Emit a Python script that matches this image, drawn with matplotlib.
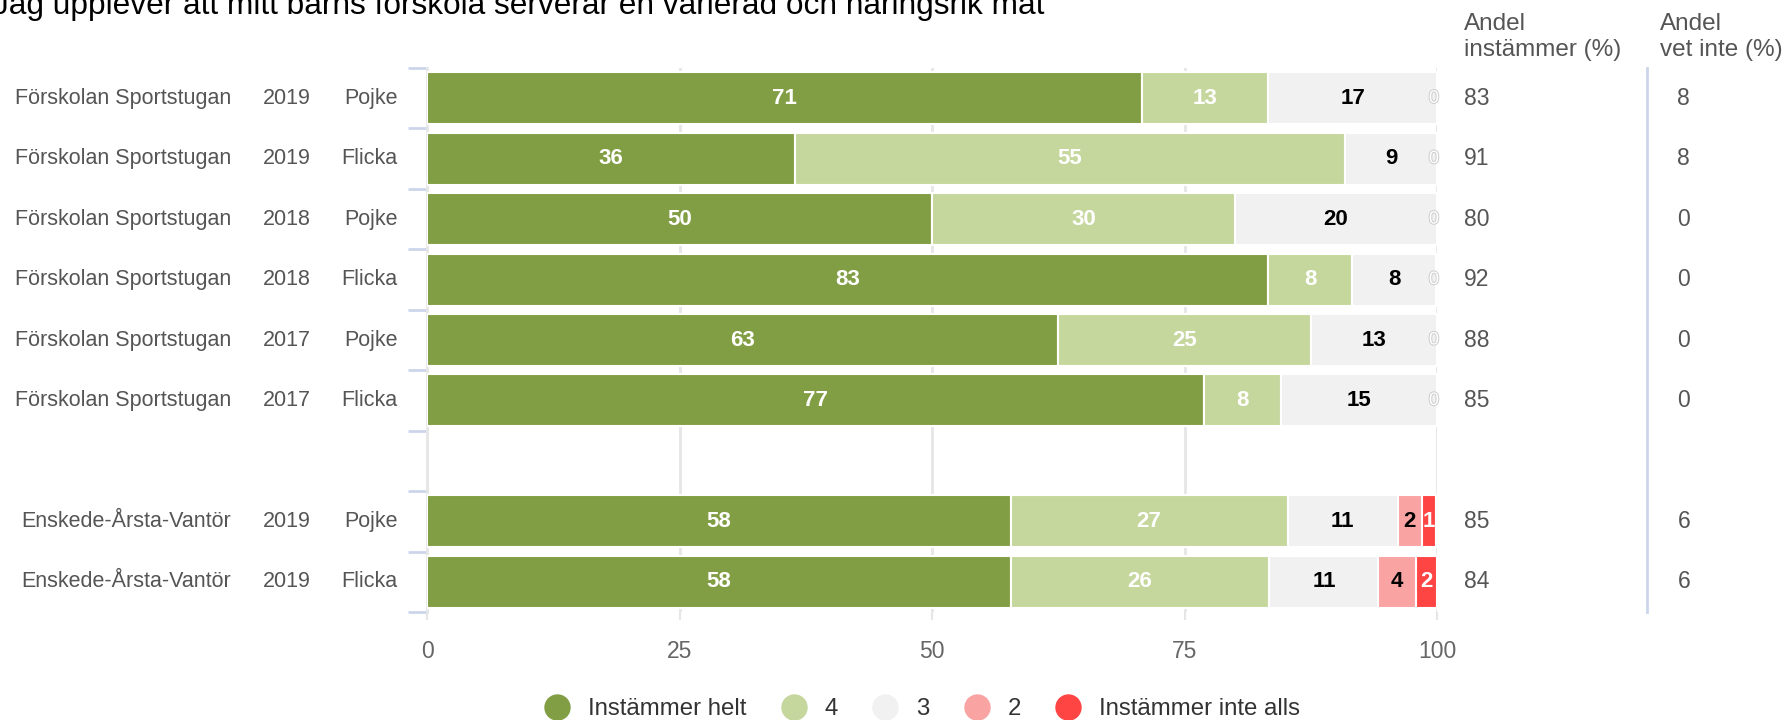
import matplotlib
matplotlib.use("Agg")
import matplotlib.pyplot as plt
import matplotlib.patheffects as pe
from matplotlib.lines import Line2D
import numpy as np

plt.rcParams['font.family'] = ['Liberation Sans', 'DejaVu Sans']

title = "Jag upplever att mitt barns förskola serverar en varierad och näringsrik mat"
units = ["Förskolan Sportstugan"] * 6 + [""] + ["Enskede-Årsta-Vantör"] * 2
years = ["2019", "2019", "2018", "2018", "2017", "2017", "", "2019", "2019"]
genders = ["Pojke", "Flicka", "Pojke", "Flicka", "Pojke", "Flicka", "", "Pojke", "Flicka"]
series_names = ["Instämmer helt", "4", "3", "2", "Instämmer inte alls"]
helt = [70.8, 36.4, 50.0, 83.3, 62.5, 76.9, None, 57.8, 57.8]
s4 = [12.5, 54.5, 30.0, 8.3, 25.0, 7.7, None, 27.4, 25.6]
s3 = [16.7, 9.1, 20.0, 8.3, 12.5, 15.4, None, 10.9, 10.8]
s2 = [0.0, 0.0, 0.0, 0.0, 0.0, 0.0, None, 2.4, 3.7]
inte = [0.0, 0.0, 0.0, 0.0, 0.0, 0.0, None, 1.4, 2.1]
andel_inst = ["83", "91", "80", "92", "88", "85", "", "85", "84"]
andel_vet = ["8", "8", "0", "0", "0", "0", "", "6", "6"]

colors = ["#829e44", "#c5d79d", "#f1f1f1", "#f9a3a3", "#ff4444"]
label_colors = ["white", "white", "black", "black", "white"]
txt = "#555555"

fig = plt.figure(figsize=(17.87, 7.2), dpi=100)
ax = fig.add_axes([427 / 1787, 1 - 612 / 720, 1010 / 1787, 544 / 720])

series = [helt, s4, s3, s2, inte]
y = np.arange(len(units))
for i in range(len(units)):
    if helt[i] is None:
        continue
    left = 0.0
    for k, s in enumerate(series):
        v = s[i]
        if v > 0:
            ax.barh(y[i], v, left=left, height=0.86, color=colors[k],
                    edgecolor="white", linewidth=1.5, zorder=3)
            ax.text(left + v / 2, y[i], str(int(v + 0.5)), ha="center", va="center",
                    color=label_colors[k], fontsize=16, fontweight="bold", zorder=4)
        left += v
    if s2[i] == 0:
        ax.text(99.7, y[i], "0", ha="center", va="center", color="white",
                fontsize=13, zorder=4,
                path_effects=[pe.withStroke(linewidth=1.5, foreground="#cfcfcf")])

ax.set_xlim(0, 100)
ax.set_ylim(len(units) - 0.5, -0.5)
ax.set_xticks([0, 25, 50, 75, 100])
ax.set_xticklabels(["0", "25", "50", "75", "100"], fontsize=16.5, color="#666666")
ax.tick_params(axis="x", length=6, width=1.5, color="#e6e6e6", pad=14)
ax.set_yticks(np.arange(-0.5, len(units), 1.0))
ax.set_yticklabels([])
ax.tick_params(axis="y", length=14, width=2, color="#ccd6eb")
ax.grid(axis="x", color="#e6e6e6", linewidth=2, zorder=0)
for sp in ["top", "right", "bottom"]:
    ax.spines[sp].set_visible(False)
ax.spines["left"].set_color("#e6e6e6")
ax.spines["left"].set_linewidth(2)

# left category labels
for i in range(len(units)):
    ax.text(-19.4, y[i], units[i], ha="right", va="center", fontsize=15.5, color=txt)
    ax.text(-11.5, y[i], years[i], ha="right", va="center", fontsize=15.5, color=txt)
    ax.text(-2.9, y[i], genders[i], ha="right", va="center", fontsize=15.5, color=txt)

# right columns
for i in range(len(units)):
    ax.text(102.7, y[i], andel_inst[i], ha="left", va="center", fontsize=16.5, color=txt, clip_on=False)
    ax.text(123.8, y[i], andel_vet[i], ha="left", va="center", fontsize=16.5, color=txt, clip_on=False)
ax.text(102.7, -0.62, "Andel\ninstämmer (%)", ha="left", va="bottom", fontsize=17.5,
        color=txt, linespacing=1.2)
ax.text(122.1, -0.62, "Andel\nvet inte (%)", ha="left", va="bottom", fontsize=17.5,
        color=txt, linespacing=1.2)
ax.plot([120.8, 120.8], [-0.5, len(units) - 0.5], color="#ccd6eb", linewidth=2, clip_on=False)

fig.text(-0.004, 1 - 14 / 720, title, ha="left", va="baseline", fontsize=22.8, color="#000000")

handles = [Line2D([0], [0], marker="o", linestyle="", markersize=18,
                  markerfacecolor=c, markeredgecolor=c) for c in colors]
fig.legend(handles, series_names, loc="center", bbox_to_anchor=(0.513, 1 - 709 / 720),
           ncol=5, frameon=False, fontsize=17.3, handletextpad=0.3, columnspacing=0.95,
           labelcolor="#333333")

fig.savefig("out.png", dpi=100)
